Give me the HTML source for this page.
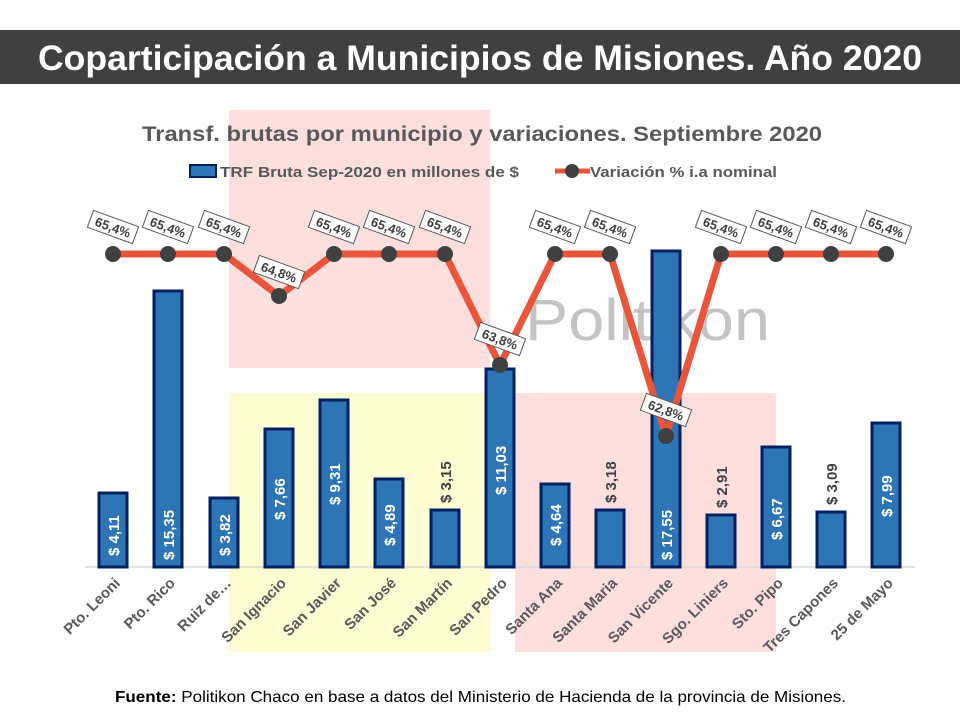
<!DOCTYPE html>
<html><head><meta charset="utf-8"><style>
body{margin:0;width:960px;height:720px;background:#fff;overflow:hidden;font-family:"Liberation Sans",sans-serif}
</style></head><body>
<svg width="960" height="720" xmlns="http://www.w3.org/2000/svg" font-family="Liberation Sans, sans-serif">
<rect x="0" y="30" width="960" height="54" fill="#404040"/>
<text x="38" y="70" fill="#fff" font-size="35" font-weight="bold" textLength="884" lengthAdjust="spacingAndGlyphs">Coparticipación a Municipios de Misiones. Año 2020</text>
<rect x="229" y="110" width="261" height="258" fill="#fde0de"/>
<rect x="229" y="393" width="261" height="259" fill="#fefcd2"/>
<rect x="515" y="393" width="261" height="259" fill="#fde0de"/>
<text x="525" y="340" fill="#c4c4c4" font-size="58" textLength="245" lengthAdjust="spacingAndGlyphs">Politikon</text>
<text x="142" y="141" fill="#595959" font-size="21" font-weight="bold" textLength="680" lengthAdjust="spacingAndGlyphs">Transf. brutas por municipio y variaciones. Septiembre 2020</text>
<rect x="190" y="165" width="26" height="12" fill="#2e75b6" stroke="#002060" stroke-width="2"/>
<text x="220" y="177" fill="#595959" font-size="15" font-weight="bold" textLength="299" lengthAdjust="spacingAndGlyphs">TRF Bruta Sep-2020 en millones de $</text>
<line x1="555" y1="171" x2="590" y2="171" stroke="#e9553a" stroke-width="5"/>
<circle cx="572" cy="171" r="7" fill="#404040"/>
<text x="590" y="177" fill="#595959" font-size="15" font-weight="bold" textLength="187" lengthAdjust="spacingAndGlyphs">Variación % i.a nominal</text>
<line x1="85" y1="567" x2="915" y2="567" stroke="#d9d9d9" stroke-width="1.5"/>
<g id="bars" fill="#2e75b6" stroke="#002060" stroke-width="3">
<rect x="99" y="493" width="28" height="74"/>
<rect x="154" y="291" width="28" height="276"/>
<rect x="210" y="498" width="28" height="69"/>
<rect x="265" y="429" width="28" height="138"/>
<rect x="320" y="400" width="28" height="167"/>
<rect x="375" y="479" width="28" height="88"/>
<rect x="431" y="510" width="28" height="57"/>
<rect x="486" y="369" width="28" height="198"/>
<rect x="541" y="484" width="28" height="83"/>
<rect x="596" y="510" width="28" height="57"/>
<rect x="652" y="251" width="28" height="316"/>
<rect x="707" y="515" width="28" height="52"/>
<rect x="762" y="447" width="28" height="120"/>
<rect x="817" y="512" width="28" height="55"/>
<rect x="872" y="423" width="28" height="144"/>
</g>
<g font-size="15" font-weight="bold" fill="#fff">
<text transform="translate(119,556) rotate(-90)">$ 4,11</text>
<text transform="translate(174,560) rotate(-90)">$ 15,35</text>
<text transform="translate(230,556) rotate(-90)">$ 3,82</text>
<text transform="translate(285,520) rotate(-90)">$ 7,66</text>
<text transform="translate(340,505) rotate(-90)">$ 9,31</text>
<text transform="translate(395,546) rotate(-90)">$ 4,89</text>
<text fill="#404040" transform="translate(451,503) rotate(-90)">$ 3,15</text>
<text transform="translate(506,495) rotate(-90)">$ 11,03</text>
<text transform="translate(561,546) rotate(-90)">$ 4,64</text>
<text fill="#404040" transform="translate(616,503) rotate(-90)">$ 3,18</text>
<text transform="translate(672,560) rotate(-90)">$ 17,55</text>
<text fill="#404040" transform="translate(727,508) rotate(-90)">$ 2,91</text>
<text transform="translate(782,540) rotate(-90)">$ 6,67</text>
<text fill="#404040" transform="translate(837,505) rotate(-90)">$ 3,09</text>
<text transform="translate(892,517) rotate(-90)">$ 7,99</text>
</g>
<polyline points="113,254 168,254 224,254 279,296 334,254 389,254 445,254 500,365 555,254 610,254 666,436 721,254 776,254 831,254 886,254" fill="none" stroke="#e9553a" stroke-width="7" stroke-linejoin="round"/>
<g fill="#404040">
<circle cx="113" cy="254" r="8"/><circle cx="168" cy="254" r="8"/><circle cx="224" cy="254" r="8"/><circle cx="279" cy="296" r="8"/><circle cx="334" cy="254" r="8"/><circle cx="389" cy="254" r="8"/><circle cx="445" cy="254" r="8"/><circle cx="500" cy="365" r="8"/><circle cx="555" cy="254" r="8"/><circle cx="610" cy="254" r="8"/><circle cx="666" cy="436" r="8"/><circle cx="721" cy="254" r="8"/><circle cx="776" cy="254" r="8"/><circle cx="831" cy="254" r="8"/><circle cx="886" cy="254" r="8"/>
</g>
<g font-size="13" font-weight="bold" fill="#404040">
<g transform="translate(113,227) rotate(20)"><rect x="-24" y="-9" width="48" height="18" fill="#fff" stroke="#555"/><text y="5" text-anchor="middle">65,4%</text></g>
<g transform="translate(168,227) rotate(20)"><rect x="-24" y="-9" width="48" height="18" fill="#fff" stroke="#555"/><text y="5" text-anchor="middle">65,4%</text></g>
<g transform="translate(224,227) rotate(20)"><rect x="-24" y="-9" width="48" height="18" fill="#fff" stroke="#555"/><text y="5" text-anchor="middle">65,4%</text></g>
<g transform="translate(279,272) rotate(20)"><rect x="-24" y="-9" width="48" height="18" fill="#fff" stroke="#555"/><text y="5" text-anchor="middle">64,8%</text></g>
<g transform="translate(334,227) rotate(20)"><rect x="-24" y="-9" width="48" height="18" fill="#fff" stroke="#555"/><text y="5" text-anchor="middle">65,4%</text></g>
<g transform="translate(389,227) rotate(20)"><rect x="-24" y="-9" width="48" height="18" fill="#fff" stroke="#555"/><text y="5" text-anchor="middle">65,4%</text></g>
<g transform="translate(445,227) rotate(20)"><rect x="-24" y="-9" width="48" height="18" fill="#fff" stroke="#555"/><text y="5" text-anchor="middle">65,4%</text></g>
<g transform="translate(500,339) rotate(20)"><rect x="-24" y="-9" width="48" height="18" fill="#fff" stroke="#555"/><text y="5" text-anchor="middle">63,8%</text></g>
<g transform="translate(555,227) rotate(20)"><rect x="-24" y="-9" width="48" height="18" fill="#fff" stroke="#555"/><text y="5" text-anchor="middle">65,4%</text></g>
<g transform="translate(610,227) rotate(20)"><rect x="-24" y="-9" width="48" height="18" fill="#fff" stroke="#555"/><text y="5" text-anchor="middle">65,4%</text></g>
<g transform="translate(666,410) rotate(20)"><rect x="-24" y="-9" width="48" height="18" fill="#fff" stroke="#555"/><text y="5" text-anchor="middle">62,8%</text></g>
<g transform="translate(721,227) rotate(20)"><rect x="-24" y="-9" width="48" height="18" fill="#fff" stroke="#555"/><text y="5" text-anchor="middle">65,4%</text></g>
<g transform="translate(776,227) rotate(20)"><rect x="-24" y="-9" width="48" height="18" fill="#fff" stroke="#555"/><text y="5" text-anchor="middle">65,4%</text></g>
<g transform="translate(831,227) rotate(20)"><rect x="-24" y="-9" width="48" height="18" fill="#fff" stroke="#555"/><text y="5" text-anchor="middle">65,4%</text></g>
<g transform="translate(886,227) rotate(20)"><rect x="-24" y="-9" width="48" height="18" fill="#fff" stroke="#555"/><text y="5" text-anchor="middle">65,4%</text></g>
</g>
<g font-size="15" font-weight="bold" fill="#595959" text-anchor="end">
<text transform="translate(121,584) rotate(-45)">Pto. Leoni</text>
<text transform="translate(176,584) rotate(-45)">Pto. Rico</text>
<text transform="translate(232,584) rotate(-45)">Ruiz de…</text>
<text transform="translate(287,584) rotate(-45)">San Ignacio</text>
<text transform="translate(342,584) rotate(-45)">San Javier</text>
<text transform="translate(397,584) rotate(-45)">San José</text>
<text transform="translate(453,584) rotate(-45)">San Martín</text>
<text transform="translate(508,584) rotate(-45)">San Pedro</text>
<text transform="translate(563,584) rotate(-45)">Santa Ana</text>
<text transform="translate(618,584) rotate(-45)">Santa Maria</text>
<text transform="translate(674,584) rotate(-45)">San Vicente</text>
<text transform="translate(729,584) rotate(-45)">Sgo. Liniers</text>
<text transform="translate(784,584) rotate(-45)">Sto. Pipo</text>
<text transform="translate(839,584) rotate(-45)">Tres Capones</text>
<text transform="translate(894,584) rotate(-45)">25 de Mayo</text>
</g>
<text x="115" y="702" font-size="16" fill="#000" textLength="731" lengthAdjust="spacingAndGlyphs"><tspan font-weight="bold">Fuente:</tspan> Politikon Chaco en base a datos del Ministerio de Hacienda de la provincia de Misiones.</text>
</svg>
</body></html>
